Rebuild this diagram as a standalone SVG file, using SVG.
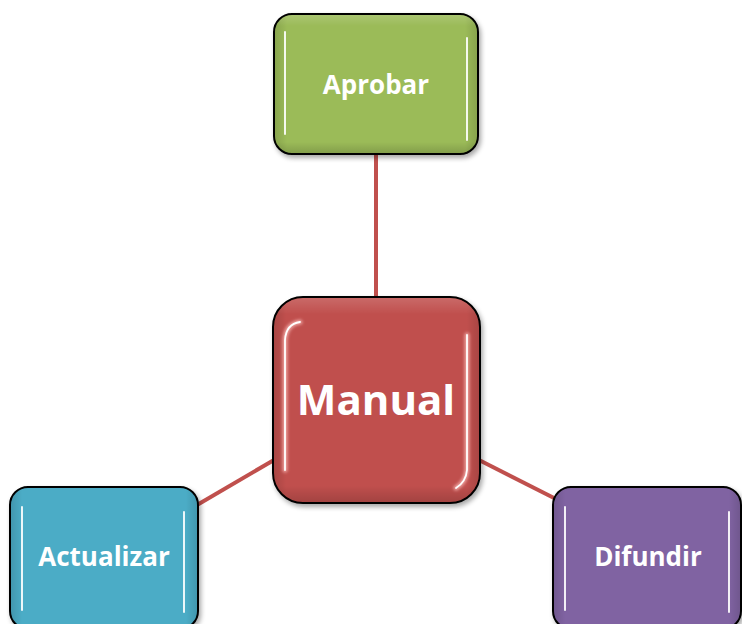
<svg xmlns="http://www.w3.org/2000/svg" width="742" height="624" viewBox="0 0 742 624">
  <defs>
    <filter id="sh" x="-10%" y="-10%" width="130%" height="130%">
      <feGaussianBlur in="SourceAlpha" stdDeviation="2.5"/>
      <feOffset dx="2" dy="3" result="b"/>
      <feComponentTransfer><feFuncA type="linear" slope="0.35"/></feComponentTransfer>
      <feMerge><feMergeNode/><feMergeNode in="SourceGraphic"/></feMerge>
    </filter>
    <filter id="glow" x="-200%" y="-10%" width="500%" height="120%">
      <feGaussianBlur stdDeviation="1.6"/>
    </filter>
    <linearGradient id="edge" x1="0" y1="0" x2="1" y2="0">
      <stop offset="0" stop-color="#000" stop-opacity="0.12"/>
      <stop offset="0.06" stop-color="#000" stop-opacity="0"/>
      <stop offset="0.94" stop-color="#000" stop-opacity="0"/>
      <stop offset="1" stop-color="#000" stop-opacity="0.12"/>
    </linearGradient>
    <linearGradient id="edgev" x1="0" y1="0" x2="0" y2="1">
      <stop offset="0" stop-color="#fff" stop-opacity="0.15"/>
      <stop offset="0.08" stop-color="#fff" stop-opacity="0"/>
      <stop offset="0.92" stop-color="#000" stop-opacity="0"/>
      <stop offset="1" stop-color="#000" stop-opacity="0.15"/>
    </linearGradient>
  </defs>
  <style>
    .box { stroke: #000; stroke-width: 2; }
    .hl { stroke-width: 5; stroke-linecap: round; fill: none; opacity: 0.9; }
    .hc { stroke-width: 1.8; stroke-linecap: round; fill: none; stroke: #ffffff; }
    .lbl { font-family: "Open Sans", "Noto Sans", sans-serif; font-weight: bold; fill: #ffffff; text-anchor: middle; }
    .con { stroke: #c0504d; stroke-width: 4; fill: none; }
  </style>
  <rect width="742" height="624" fill="#ffffff"/>
  <g id="connectors">
    <line class="con" x1="376" y1="153" x2="376" y2="297"/>
    <line class="con" x1="274" y1="460" x2="197" y2="505"/>
    <line class="con" x1="479" y1="460" x2="554" y2="498"/>
  </g>
  <g id="aprobar">
    <rect class="box" x="274" y="14" width="204" height="140" rx="18" fill="#9bbb59" filter="url(#sh)"/>
    <rect x="275" y="15" width="202" height="138" rx="17" fill="url(#edge)"/>
    <rect x="275" y="15" width="202" height="138" rx="17" fill="url(#edgev)"/>
    <path class="hl" d="M285,32 L285,134" stroke="#e6f5b8" filter="url(#glow)"/>
    <path class="hl" d="M467,38 L467,140" stroke="#e6f5b8" filter="url(#glow)"/>
    <path class="hc" d="M285,32 L285,134"/>
    <path class="hc" d="M467,38 L467,140"/>
    <text class="lbl" x="376" y="94" font-size="26">Aprobar</text>
  </g>
  <g id="manual">
    <rect class="box" x="273" y="297" width="207" height="206" rx="30" fill="#c0504d" filter="url(#sh)"/>
    <rect x="274" y="298" width="205" height="204" rx="29" fill="url(#edge)"/>
    <rect x="274" y="298" width="205" height="204" rx="29" fill="url(#edgev)"/>
    <path class="hl" d="M300,322 Q286,324 285,340 L285,470" stroke="#f1a9a6" filter="url(#glow)"/>
    <path class="hl" d="M467,335 L467,470 Q466,482 456,488" stroke="#f1a9a6" filter="url(#glow)"/>
    <path class="hc" d="M300,322 Q286,324 285,340 L285,470" stroke="#fde0de"/>
    <path class="hc" d="M467,335 L467,470 Q466,482 456,488" stroke="#fde0de"/>
    <text class="lbl" x="376" y="415" font-size="42">Manual</text>
  </g>
  <g id="actualizar">
    <rect class="box" x="10" y="487" width="188" height="142" rx="18" fill="#4bacc6" filter="url(#sh)"/>
    <rect x="11" y="488" width="186" height="140" rx="17" fill="url(#edge)"/>
    <path class="hl" d="M22,507 L22,610" stroke="#b8f1ff" filter="url(#glow)"/>
    <path class="hl" d="M184,512 L184,612" stroke="#b8f1ff" filter="url(#glow)"/>
    <path class="hc" d="M22,507 L22,610"/>
    <path class="hc" d="M184,512 L184,612"/>
    <text class="lbl" x="104" y="566" font-size="26">Actualizar</text>
  </g>
  <g id="difundir">
    <rect class="box" x="553" y="487" width="188" height="142" rx="18" fill="#8064a2" filter="url(#sh)"/>
    <rect x="554" y="488" width="186" height="140" rx="17" fill="url(#edge)"/>
    <path class="hl" d="M565,507 L565,610" stroke="#dcc8f8" filter="url(#glow)"/>
    <path class="hl" d="M729,512 L729,612" stroke="#dcc8f8" filter="url(#glow)"/>
    <path class="hc" d="M565,507 L565,610"/>
    <path class="hc" d="M729,512 L729,612"/>
    <text class="lbl" x="648" y="566" font-size="26">Difundir</text>
  </g>
</svg>
